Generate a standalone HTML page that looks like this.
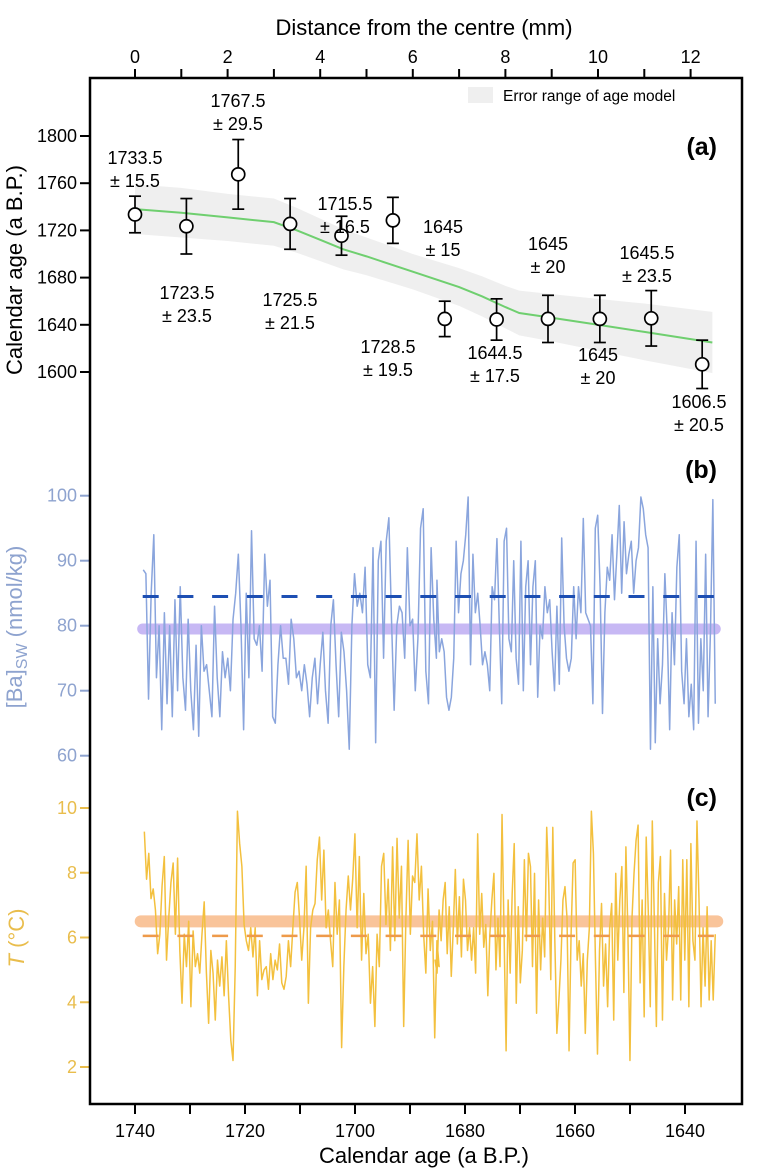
<!DOCTYPE html>
<html><head><meta charset="utf-8"><style>
html,body{margin:0;padding:0;background:#fff;}
svg{display:block;font-family:"Liberation Sans",Arial,sans-serif;}
</style></head><body>
<svg id="chart" width="769" height="1171" viewBox="0 0 769 1171" xmlns="http://www.w3.org/2000/svg">
<rect x="0" y="0" width="769" height="1171" fill="#fff"/>
<g id="layerA"></g>
<g id="layerB"></g>
<g id="layerC"></g>
<g id="axes"></g>
<rect x="90" y="78" width="652" height="1026" fill="none" stroke="#000" stroke-width="2.5"/>
<text x="424" y="35" font-size="22" text-anchor="middle">Distance from the centre (mm)</text>
<text x="424" y="1163" font-size="22" text-anchor="middle">Calendar age (a B.P.)</text>
<text transform="translate(22,270) rotate(-90)" font-size="22" text-anchor="middle">Calendar age (a B.P.)</text>
<text transform="translate(22,627) rotate(-90)" font-size="22" text-anchor="middle" fill="#8ea3cf">[Ba]<tspan font-size="16" dy="5">SW</tspan><tspan dy="-5"> (nmol/kg)</tspan></text>
<text transform="translate(24,938) rotate(-90)" font-size="22" text-anchor="middle" fill="#e9bd4c"><tspan font-style="italic">T</tspan> (°C)</text>
<text x="717" y="155" font-size="25" font-weight="bold" text-anchor="end">(a)</text>
<text x="717" y="478" font-size="25" font-weight="bold" text-anchor="end">(b)</text>
<text x="717" y="806" font-size="25" font-weight="bold" text-anchor="end">(c)</text>
<rect x="468" y="87" width="25" height="16" fill="#efefef"/>
<text x="503" y="101" font-size="15.5">Error range of age model</text>
</svg>
<script>
// ---------- Panel (a) data ----------
const ptDist = [0,1.11,2.23,3.35,4.46,5.57,6.69,7.81,8.92,10.04,11.15,12.25];
const ptAge = [1733.5,1723.5,1767.5,1725.5,1715.5,1728.5,1645,1644.5,1645,1645,1645.5,1606.5];
const ptErr = [15.5,23.5,29.5,21.5,16.5,19.5,15,17.5,20,20,23.5,20.5];
const amDist = [0,1,2,3,3.5,4,4.5,5,6,7,7.5,8,8.3,9,10,11,12.47];
const amAge = [1738,1735,1731,1727,1720,1712,1704,1698,1685,1672,1664,1655,1650,1646,1640,1634,1625];
const amErr = [21,21,20,20,19,18,17,16,15,16,17,18,19,20,22,24,26];
const distTicks = [0,2,4,6,8,10,12];
const ageTicksA = [1600,1640,1680,1720,1760,1800];
// ---------- Panel (b) data ----------
const baSeg1Start = 1738.5, baSeg1End = 1685.2;
const baSeg1 = [88.6,88,68.7,85,94,72,80,64,82,68,80,66,84,70,86,72,67,81,70,64,77,63,80,73,74,70,66,83,72,66,76,72,75,70,81,85,91,80,64,85,72,94.6,78,77,80,73,91,83,87,66,65,74,80,75,75,71,81,78,72,73,70,74,71,66,72,75,68,74,79,70,65,80,84,74,66,79,76,70,61,80,88,83,85,82,89,74,72,92,62,90,93,75,93,96.6,81,67,80,83,82,75,92,80,81,70,78,95,98,73,68,92,81,75];
const baSeg2Start = 1685.1, baSeg2End = 1634.5;
const baSeg2 = [87,76,78,76,69,67,69,75,93,82,88,90,94,99.8,74,91,82,85,80,74,76,74,70,86,84,93.4,80,68,93,95,78,76,90,75,71,93,70,86,90,74,86,90,69,80,78,86,82,84,76,70,83,71,93.5,80,75,73,75,86,78,86,82,96.5,82,81,80,68,95,97,86,66.5,82,89,87,94,84,91,98.5,85,96,88,91,93,85,90,92,99.8,98,94,92,61,86,62,78,68,74,88,79,64,82,74,89,94,73,68,78,66,71,64,93,65,78,70,91,66,79,99.4,68];
const baMeanDashed = 84.5, baMeanBand = 79.5;
const baTicks = [60,70,80,90,100];
// ---------- Panel (c) data ----------
const tSeg1Start = 1738.3, tSeg1End = 1684.7;
const tSeg1 = [9.27,7.8,8.6,7.2,7.5,6.85,5.5,6.1,7.6,8.5,5.3,6.6,7.7,8.3,6.1,8.45,5.6,3.97,6.1,5.1,6.5,3.86,6.2,5.1,5.5,4.9,6.1,7.1,4.9,3.35,5.6,4.9,3.45,5.3,4.5,5.4,4.2,5.9,4.2,2.83,2.2,5.1,9.9,8.9,8.2,6.4,5.9,5.6,6.3,5.4,6.3,4.2,5.9,4.7,5.0,5.1,4.4,5.5,4.7,5.3,5.0,5.8,4.6,4.4,4.8,5.9,5.1,6.3,7.4,7.7,6.6,5.3,6.3,8.2,3.97,6.3,6.85,7.05,8.4,9.1,7.16,8.7,6.3,6.85,5.9,5.1,7.7,6.1,7.16,2.6,5.1,6.85,7.9,6.85,7.8,9.2,6.3,8.5,5.3,7.36,5.5,6.1,3.97,5.1,3.25,6.1,5.1,8.2,8.6,6.4,7.8,5.6,8.8,5.9,9.06,6.6,8.2,3.25,6.6,9.0,6.1,7.9,7.7,9.2,7.16,8.2,6.1,4.9,7.5,5.6,6.5,2.9,5.9,5.1];
const tSeg2Start = 1685.45, tSeg2End = 1634.5;
const tSeg2 = [5.3,4.9,6.85,5.9,7.16,7.7,5.5,6.95,4.8,6.3,8.1,5.8,7.26,5.4,7.8,7.16,5.6,6.3,5.3,6.3,4.9,9.2,6.1,7.36,5.7,6.4,4.2,6.1,7.16,7.98,5.0,6.6,5.1,9.8,6.1,2.5,7.16,4.9,7.36,8.9,3.97,6.95,4.6,5.6,8.4,5.9,8.6,8.19,5.1,7.98,3.66,7.16,5.0,6.6,5.4,9.4,7.7,4.7,9.4,5.9,3.04,4.07,5.3,7.16,7.57,6.6,2.5,6.1,8.3,8.4,5.3,5.9,4.5,5.5,3.04,5.3,6.3,9.9,8.6,5.3,2.4,5.6,7.05,4.5,5.8,3.86,6.3,7.05,3.45,7.98,5.3,7.16,8.19,4.3,8.8,6.1,2.2,6.6,7.98,9.0,9.47,4.6,7.16,3.55,9.1,6.85,3.86,9.6,6.54,3.25,7.7,8.5,3.45,7.36,5.3,6.3,8.7,4.07,7.16,5.8,7.57,4.07,8.4,5.3,8.4,3.86,8.9,5.9,5.3,9.6,7.16,3.86,6.3,4.5,6.95,4.07,5.9,4.07,6.1];
const tMeanBand = 6.5, tMeanDashed = 6.05;
const tTicks = [2,4,6,8,10];
const yearTicks = [1740,1730,1720,1710,1700,1690,1680,1670,1660,1650,1640];
const yearLabels = [1740,1720,1700,1680,1660,1640];
const meanStartYear = 1738.6, meanEndYear = 1634.5;

// ---------- scales ----------
const xYear = y => 135 + (1740 - y) * 5.5;
const xDist = d => 135 + d * 46.3;
const yAge = a => 136 + (1800 - a) * 1.18;
const yBa = v => 495.7 + (100 - v) * 6.5;
const yT = v => 808 + (10 - v) * 32.375;

const NS = "http://www.w3.org/2000/svg";
function mk(tag, parent, attrs) {
  const e = document.createElementNS(NS, tag);
  for (const k in attrs) e.setAttribute(k, attrs[k]);
  parent.appendChild(e);
  return e;
}
const A = document.getElementById('layerA');
const B = document.getElementById('layerB');
const C = document.getElementById('layerC');
const AX = document.getElementById('axes');

// ---------- panel (a) ----------
let up = [], dn = [];
amDist.forEach((d, i) => { up.push(xDist(d) + ',' + yAge(amAge[i] + amErr[i])); dn.unshift(xDist(d) + ',' + yAge(amAge[i] - amErr[i])); });
const band = mk('polygon', A, { points: up.concat(dn).join(' '), fill: '#efefef' });


const amLine = mk('polyline', A, { points: amDist.map((d, i) => xDist(d) + ',' + yAge(amAge[i])).join(' '), fill: 'none', stroke: '#6fcf6f', 'stroke-width': 2 });



const labelPos = [[135,158],[187,293],[238,101],[290,300],[345,204],[388,347],[443,227],[495,353],[548,244],[598,355],[647,253],[699,402]];
ptDist.forEach((d, i) => {
  const x = xDist(d), y = yAge(ptAge[i]);
  const yt = yAge(ptAge[i] + ptErr[i]), yb = yAge(ptAge[i] - ptErr[i]);
  const g = mk('g', A, {});
  
  
  mk('line', g, { x1: x, y1: yt, x2: x, y2: yb, stroke: '#000', 'stroke-width': 1.7 });
  mk('line', g, { x1: x - 6, y1: yt, x2: x + 6, y2: yt, stroke: '#000', 'stroke-width': 1.7 });
  mk('line', g, { x1: x - 6, y1: yb, x2: x + 6, y2: yb, stroke: '#000', 'stroke-width': 1.7 });
  mk('circle', g, { cx: x, cy: y, r: 6.5, fill: '#fff', stroke: '#000', 'stroke-width': 1.7 });
  const lp = labelPos[i];
  const t1 = mk('text', A, { x: lp[0], y: lp[1] + 6, 'font-size': 18, 'text-anchor': 'middle' });
  t1.textContent = String(ptAge[i]);
  
  
  const t2 = mk('text', A, { x: lp[0], y: lp[1] + 29, 'font-size': 18, 'text-anchor': 'middle' });
  t2.textContent = '± ' + ptErr[i];
  
  
});

// ---------- panel (b) ----------
function seg(arr, s, e) { const st = (s - e) / (arr.length - 1); return arr.map((v, i) => s - i * st); }
const bm = mk('line', B, { x1: xYear(meanStartYear), x2: xYear(meanEndYear), y1: yBa(baMeanBand), y2: yBa(baMeanBand), stroke: '#c7b8f4', 'stroke-width': 11, 'stroke-linecap': 'round' });


const baYears = seg(baSeg1, baSeg1Start, baSeg1End).concat(seg(baSeg2, baSeg2Start, baSeg2End));
const baVals = baSeg1.concat(baSeg2);
const baLine = mk('polyline', B, { points: baVals.map((v, i) => xYear(baYears[i]) + ',' + yBa(v)).join(' '), fill: 'none', stroke: '#8aa5dd', 'stroke-width': 1.5, 'stroke-linejoin': 'round' });


const bd = mk('line', B, { x1: xYear(meanStartYear), x2: xYear(meanEndYear), y1: yBa(baMeanDashed), y2: yBa(baMeanDashed), stroke: '#1d4fb3', 'stroke-width': 3, 'stroke-dasharray': '16 18.7' });



// ---------- panel (c) ----------
const cm = mk('line', C, { x1: xYear(meanStartYear) - 2, x2: xYear(meanEndYear) + 2, y1: yT(tMeanBand), y2: yT(tMeanBand), stroke: '#f9c49a', 'stroke-width': 12, 'stroke-linecap': 'round' });


const tYears = seg(tSeg1, tSeg1Start, tSeg1End).concat(seg(tSeg2, tSeg2Start, tSeg2End));
const tVals = tSeg1.concat(tSeg2);
const tLine = mk('polyline', C, { points: tVals.map((v, i) => xYear(tYears[i]) + ',' + yT(v)).join(' '), fill: 'none', stroke: '#f3c03e', 'stroke-width': 1.5, 'stroke-linejoin': 'round' });


const cd = mk('line', C, { x1: xYear(meanStartYear), x2: xYear(meanEndYear), y1: yT(tMeanDashed), y2: yT(tMeanDashed), stroke: '#ee9a4a', 'stroke-width': 2.5, 'stroke-dasharray': '16 18.7' });



// ---------- axes ----------
for (let d = 0; d <= 12; d++) {
  mk('line', AX, { x1: xDist(d), x2: xDist(d), y1: 69, y2: 78, stroke: '#000', 'stroke-width': 2 });
}
distTicks.forEach(d => {
  const t = mk('text', AX, { x: xDist(d), y: 63, 'font-size': 18, 'text-anchor': 'middle' });
  t.textContent = d;
  
  
});
yearTicks.forEach(y => { mk('line', AX, { x1: xYear(y), x2: xYear(y), y1: 1104, y2: 1114, stroke: '#000', 'stroke-width': 2 }); });
yearLabels.forEach(y => {
  const t = mk('text', AX, { x: xYear(y), y: 1137, 'font-size': 18, 'text-anchor': 'middle' });
  t.textContent = y;
  
  
});
function yAxis(ticks, f, color, name) {
  ticks.forEach(v => {
    mk('line', AX, { x1: 80, x2: 90, y1: f(v), y2: f(v), stroke: color, 'stroke-width': 2 });
    const t = mk('text', AX, { x: 77, y: f(v) + 6, 'font-size': 18, 'text-anchor': 'end', fill: color });
    t.textContent = v;
    
    
  });
}
yAxis(ageTicksA, yAge, '#000', 'y-tick-label-a');
yAxis(baTicks, yBa, '#8ea3cf', 'y-tick-label-b');
yAxis(tTicks, yT, '#e9bd4c', 'y-tick-label-c');
</script>
</body></html>
